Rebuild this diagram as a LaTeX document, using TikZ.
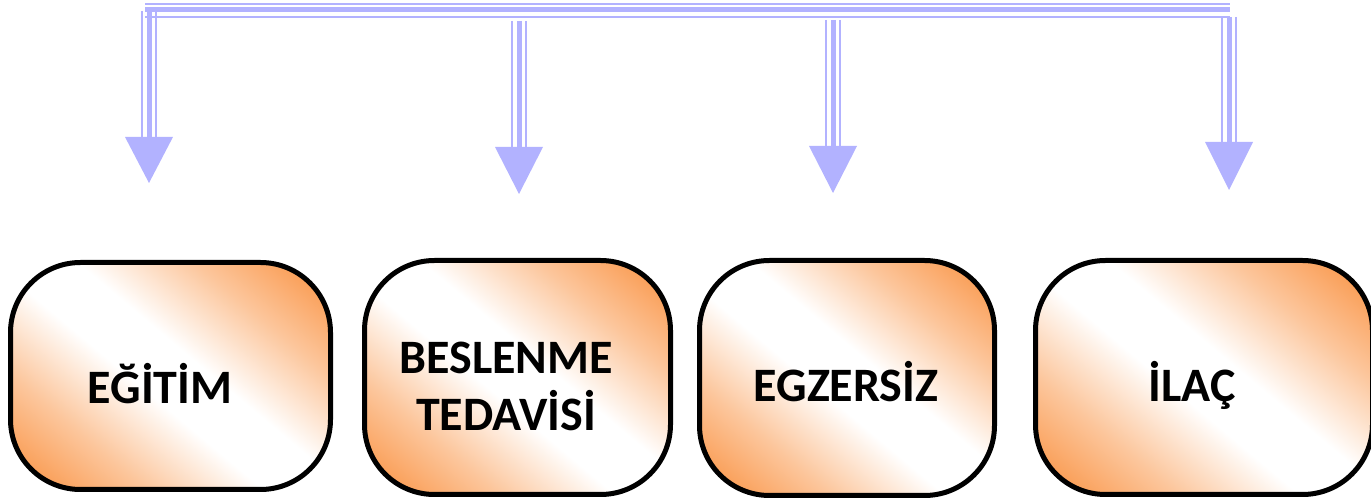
\documentclass[tikz,border=0pt]{standalone}
\usepackage{fontspec}
\setmainfont{Carlito}
\definecolor{arr}{RGB}{178,178,255}
\definecolor{org}{RGB}{250,160,90}
\pgfdeclareverticalshading{boxshade}{100bp}{color(0bp)=(org); color(20bp)=(org); color(31bp)=(org!60!white); color(45bp)=(white); color(55bp)=(white); color(69bp)=(org!60!white); color(80bp)=(org); color(100bp)=(org)}
\tikzset{
  box/.style={draw=black, line width=2.5pt, rounded corners=35pt,
    shading=boxshade, shading angle=-40},
  lbl/.style={font=\bfseries\fontsize{24}{28.5}\selectfont, align=center, inner sep=0pt},
  thinl/.style={draw=arr, line width=1pt},
  thickl/.style={draw=arr, line width=2.5pt},
  headf/.style={fill=arr}
}
\begin{document}
\begin{tikzpicture}[x=0.5pt, y=-0.5pt]
\useasboundingbox (0,0) rectangle (1371,501);
% boxes
\node[box, minimum width=160pt, minimum height=113.5pt] (b1) at (170.5,376) {};
\node[box, minimum width=153pt, minimum height=117pt] (b2) at (517.5,377.5) {};
\node[box, minimum width=147.5pt, minimum height=117.5pt] (b3) at (847,378) {};
\node[box, minimum width=168.5pt, minimum height=117pt] (b4) at (1204,377.5) {};
% labels
\node[lbl] (t1) at (160,384) {EĞİTİM};
\node[lbl] (t2) at (506,386) {BESLENME\\TEDAVİSİ};
\node[lbl] (t3) at (846,382) {EGZERSİZ};
\node[lbl] (t4) at (1192,385) {İLAÇ};
% top bar
\coordinate (L) at (145,10);
\coordinate (R) at (1230,10);
\draw[thinl] ([yshift=3pt]L) -- ([yshift=3pt]R);
\draw[thickl] (L) -- (R);
\draw[thinl] ([yshift=-3.5pt]L) -- ([yshift=-3.5pt]R);
% arrows
\coordinate (s1) at (149,11);  \coordinate (h1) at (149,137); \coordinate (p1) at (149,183);
\coordinate (s2) at (519,21);  \coordinate (h2) at (519,147); \coordinate (p2) at (519,194);
\coordinate (s3) at (833,20);  \coordinate (h3) at (833,146); \coordinate (p3) at (833,193);
\coordinate (s4) at (1229,17); \coordinate (h4) at (1229,142); \coordinate (p4) at (1229,190);
\foreach \i in {1,2,3,4}{
  \draw[thinl] ([xshift=-3.5pt]s\i) -- ([xshift=-3.5pt]h\i);
  \draw[thickl] (s\i) -- (h\i);
  \draw[thinl] ([xshift=3.5pt]s\i) -- ([xshift=3.5pt]h\i);
  \fill[headf] ([xshift=-12pt]h\i) -- ([xshift=12pt]h\i) -- (p\i) -- cycle;
}
\end{tikzpicture}
\end{document}
